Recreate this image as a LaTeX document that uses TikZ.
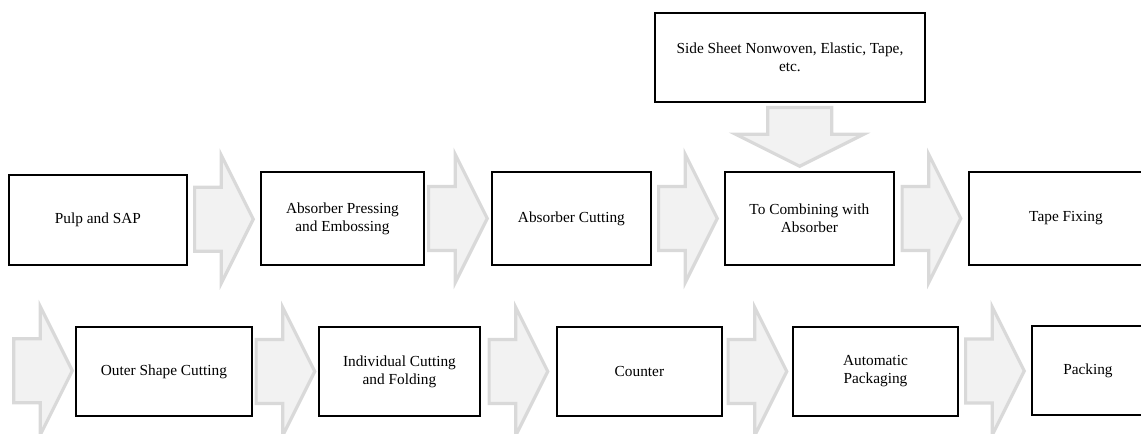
\documentclass[tikz,border=0pt]{standalone}
\usepackage{fontspec}
\setmainfont{Liberation Serif}
\newfontfamily\boxfont{Liberation Serif}
\usepackage{tikz}
\usetikzlibrary{calc}
\definecolor{arrowfill}{HTML}{F2F2F2}
\definecolor{arrowline}{HTML}{D9D9D9}
\tikzset{
  stepbox/.style={draw=black, line width=1.4pt, anchor=north west, align=center,
    inner sep=0pt, font=\boxfont\fontsize{11.5}{13.5}\selectfont},
  flowarrow/.style={fill=arrowfill, draw=arrowline, line width=2.4pt, line join=miter},
  fatarrow/.pic={
    \draw[flowarrow] (-22pt,24pt) -- (-2pt,24pt) -- (-2pt,48pt) -- (22pt,0pt)
      -- (-2pt,-48pt) -- (-2pt,-24pt) -- (-22pt,-24pt) -- cycle;
  }
}
\newcommand{\flowarrow}[2]{%
  \path ($(#1.east)!0.5!(#2.west)$) pic {fatarrow};%
}

\begin{document}
\begin{tikzpicture}[x=0.75pt, y=-0.75pt]
    \useasboundingbox (0,0) rectangle (1141,434);
    % first row
    \node[stepbox, minimum width=133.5pt, minimum height=67.5pt] (pulp) at (8,174) {Pulp and SAP};
    \node[stepbox, minimum width=122.25pt, minimum height=69.75pt] (press) at (260,171) {Absorber Pressing\\and Embossing};
    \node[stepbox, minimum width=119.25pt, minimum height=69.75pt] (cut) at (491,171) {Absorber Cutting};
    \node[stepbox, minimum width=126.75pt, minimum height=69.75pt] (comb) at (724,171) {To Combining with\\Absorber};
    \node[stepbox, minimum width=145.5pt, minimum height=69.75pt] (tape) at (968,171) {Tape Fixing};
    \node[stepbox, minimum width=202.5pt, minimum height=66.75pt] (side) at (654,12) {Side Sheet Nonwoven, Elastic, Tape,\\etc.};
    % second row
    \coordinate (wrap) at (11,370);
    \node[stepbox, minimum width=132pt, minimum height=66.75pt] (outer) at (75,326) {Outer Shape Cutting};
    \node[stepbox, minimum width=120.75pt, minimum height=66.75pt] (indiv) at (318,326) {Individual Cutting\\and Folding};
    \node[stepbox, minimum width=123.75pt, minimum height=66.75pt] (count) at (556,326) {Counter};
    \node[stepbox, minimum width=123.75pt, minimum height=66.75pt] (autopack) at (792,326) {Automatic\\Packaging};
    \node[stepbox, minimum width=84pt, minimum height=66.75pt] (pack) at (1031,325) {Packing};
    % arrows
    \flowarrow{pulp}{press}
    \flowarrow{press}{cut}
    \flowarrow{cut}{comb}
    \flowarrow{comb}{tape}
    \path ($(side.south)!0.5!(comb.north)$) pic[rotate=-90] {fatarrow};
    \flowarrow{wrap}{outer}
    \flowarrow{outer}{indiv}
    \flowarrow{indiv}{count}
    \flowarrow{count}{autopack}
    \flowarrow{autopack}{pack}
\end{tikzpicture}
\end{document}
